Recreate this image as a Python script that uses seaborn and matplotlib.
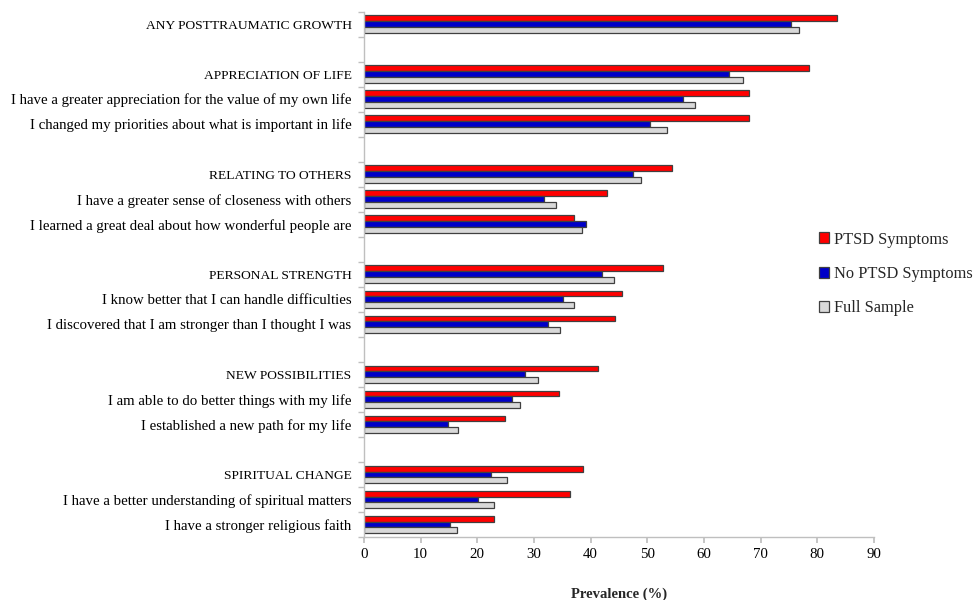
import matplotlib
matplotlib.use("Agg")
import matplotlib.pyplot as plt
import seaborn as sns
import pandas as pd
import numpy as np

categories = [
    "ANY POSTTRAUMATIC GROWTH",
    "APPRECIATION OF LIFE",
    "I have a greater appreciation for the value of my own life",
    "I changed my priorities about what is important in life",
    "RELATING TO OTHERS",
    "I have a greater sense of closeness with others",
    "I learned a great deal about how wonderful people are",
    "PERSONAL STRENGTH",
    "I know better that I can handle difficulties",
    "I discovered that I am stronger than I thought I was",
    "NEW POSSIBILITIES",
    "I am able to do better things with my life",
    "I established a new path for my life",
    "SPIRITUAL CHANGE",
    "I have a better understanding of spiritual matters",
    "I have a stronger religious faith",
]
ptsd = [83.5, 78.6, 67.9, 67.9, 54.3, 42.8, 37.1, 52.8, 45.6, 44.3, 41.3, 34.4, 24.9, 38.6, 36.4, 23.0]
no_ptsd = [75.3, 64.4, 56.3, 50.4, 47.4, 31.7, 39.1, 42.0, 35.2, 32.4, 28.4, 26.1, 14.8, 22.4, 20.2, 15.1]
full = [76.8, 66.9, 58.4, 53.5, 48.8, 33.8, 38.5, 44.2, 37.1, 34.5, 30.7, 27.6, 16.6, 25.3, 23.0, 16.4]
series = ["PTSD Symptoms", "No PTSD Symptoms", "Full Sample"]
colors = ["#ff0000", "#0000c8", "#d9d9d9"]

# Row order with blank spacer rows between groups
order = [categories[0], " ",
         categories[1], categories[2], categories[3], "  ",
         categories[4], categories[5], categories[6], "   ",
         categories[7], categories[8], categories[9], "    ",
         categories[10], categories[11], categories[12], "     ",
         categories[13], categories[14], categories[15]]

df = pd.DataFrame({
    "Category": categories * 3,
    "Series": [series[0]] * 16 + [series[1]] * 16 + [series[2]] * 16,
    "Value": ptsd + no_ptsd + full,
})

sns.set_theme(style="white")
plt.rcParams["font.family"] = ["Liberation Serif", "DejaVu Serif"]

fig = plt.figure(figsize=(9.74, 6.0), dpi=100)
ax = fig.add_axes([364 / 974, 1 - 537 / 600, 510 / 974, (537 - 11.5) / 600])

sns.barplot(data=df, y="Category", x="Value", hue="Series", order=order,
            hue_order=series, palette=colors, orient="h", width=0.7,
            saturation=1, edgecolor="#404040", linewidth=0.9, ax=ax, legend=True)

ax.set_xlim(0, 90)
ax.set_xticks(np.arange(0, 91, 10))
ax.set_ylim(len(order) - 0.5, -0.5)
ax.set_ylabel("")
ax.set_xlabel("Prevalence (%)", fontsize=10.5, fontweight="bold", labelpad=19)

for s in ["top", "right"]:
    ax.spines[s].set_visible(False)
for s in ["left", "bottom"]:
    ax.spines[s].set_color("#bfbfbf")
    ax.spines[s].set_linewidth(1.0)

ax.tick_params(axis="y", which="major", length=0, pad=9, labelsize=10.7, colors="black")
for lab in ax.get_yticklabels():
    if lab.get_text().isupper():
        lab.set_fontsize(9.7)
ax.set_yticks(np.arange(-0.5, len(order), 1.0), minor=True)
ax.tick_params(axis="y", which="minor", length=4, color="#bfbfbf", left=True)
ax.tick_params(axis="x", which="major", length=4, color="#bfbfbf", bottom=True,
               pad=4, labelsize=10.7, colors="black")
ax.grid(False)

leg = ax.get_legend()
handles = leg.legend_handles
leg.remove()
fig.legend(handles, series, loc="center left", bbox_to_anchor=(812 / 974, 1 - 274 / 600),
           frameon=False, fontsize=11.8, labelspacing=1.12, handlelength=0.65,
           handleheight=0.65, handletextpad=0.3, borderaxespad=0)

fig.savefig("out.png", dpi=100)
